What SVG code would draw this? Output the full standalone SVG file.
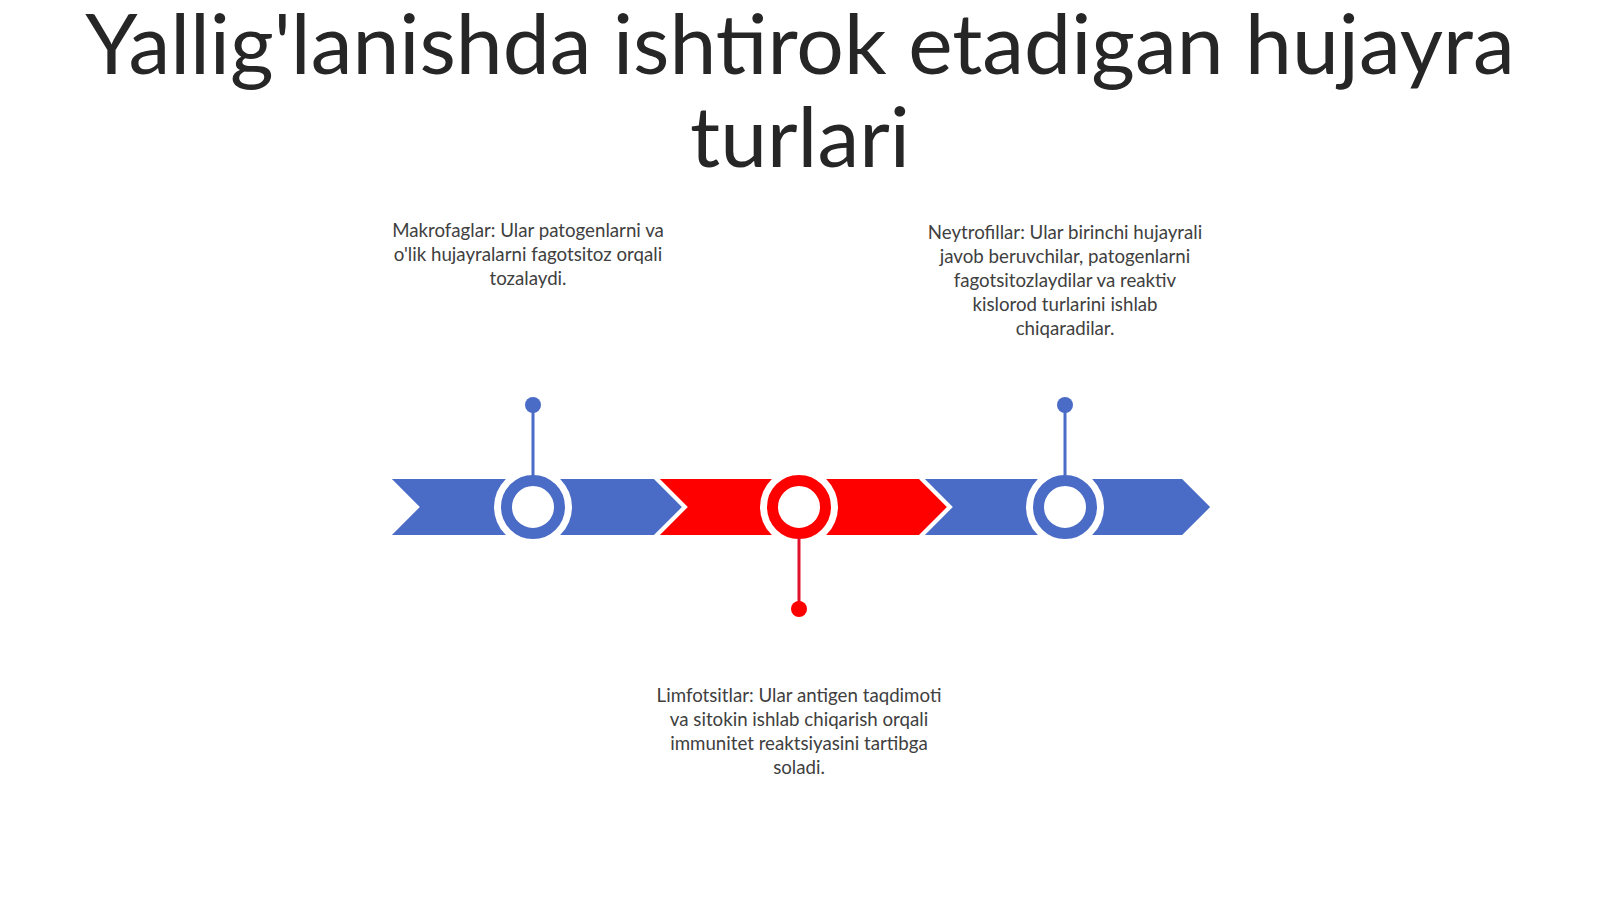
<svg xmlns="http://www.w3.org/2000/svg" width="1600" height="899" viewBox="0 0 1600 899">
<style>
.title{font-family:Lato,"Open Sans",sans-serif;font-size:84px;fill:#262626;text-anchor:middle}
.lbl{font-family:Lato,"Open Sans",sans-serif;font-size:18.7px;fill:#404040;text-anchor:middle}
.chev{stroke:#fff;stroke-width:4;stroke-linejoin:miter}
.blue{fill:#4A6BC6}
.red{fill:#FF0000}
.halo{fill:#fff}
.ringB{fill:#fff;stroke:#4A6BC6;stroke-width:11}
.ringR{fill:#fff;stroke:#FF0000;stroke-width:11}
</style>
<rect width="1600" height="899" fill="#fff"/>
<g id="title">
<text class="title" x="800" y="74">Yallig'lanishda ishtirok etadigan hujayra</text>
<text class="title" x="800" y="167">turlari</text>
</g>
<g id="band">
<polygon class="chev blue" points="387,477 655,477 685,507 655,537 387,537 417,507"/>
<polygon class="chev red" points="655,477 920,477 950,507 920,537 655,537 685,507"/>
<polygon class="chev blue" points="920,477 1183,477 1213,507 1183,537 920,537 950,507"/>
</g>
<g id="node-makrofaglar">
<circle class="halo" cx="533" cy="507" r="39"/>
<circle class="ringB" cx="533" cy="507" r="26.5"/>
<text class="lbl" x="528" y="237">Makrofaglar: Ular patogenlarni va</text>
<text class="lbl" x="528" y="261">o'lik hujayralarni fagotsitoz orqali</text>
<text class="lbl" x="528" y="285">tozalaydi.</text>
</g>
<g id="node-limfotsitlar">
<circle class="halo" cx="799" cy="507" r="39"/>
<circle class="ringR" cx="799" cy="507" r="26.5"/>
<text class="lbl" x="799" y="702">Limfotsitlar: Ular antigen taqdimoti</text>
<text class="lbl" x="799" y="726">va sitokin ishlab chiqarish orqali</text>
<text class="lbl" x="799" y="750">immunitet reaktsiyasini tartibga</text>
<text class="lbl" x="799" y="774">soladi.</text>
</g>
<g id="node-neytrofillar">
<circle class="halo" cx="1065" cy="507" r="39"/>
<circle class="ringB" cx="1065" cy="507" r="26.5"/>
<text class="lbl" x="1065" y="239">Neytrofillar: Ular birinchi hujayrali</text>
<text class="lbl" x="1065" y="263">javob beruvchilar, patogenlarni</text>
<text class="lbl" x="1065" y="287">fagotsitozlaydilar va reaktiv</text>
<text class="lbl" x="1065" y="311">kislorod turlarini ishlab</text>
<text class="lbl" x="1065" y="335">chiqaradilar.</text>
</g>
<g id="connectors">
<line x1="533" y1="405" x2="533" y2="476" stroke="#4A6BC6" stroke-width="3"/>
<circle cx="533" cy="405" r="8" fill="#4A6BC6"/>
<line x1="1065" y1="405" x2="1065" y2="476" stroke="#4A6BC6" stroke-width="3"/>
<circle cx="1065" cy="405" r="8" fill="#4A6BC6"/>
<line x1="799" y1="538" x2="799" y2="608" stroke="#E0102A" stroke-width="3"/>
<circle cx="799" cy="609" r="8" fill="#FF0000"/>
</g>
</svg>
